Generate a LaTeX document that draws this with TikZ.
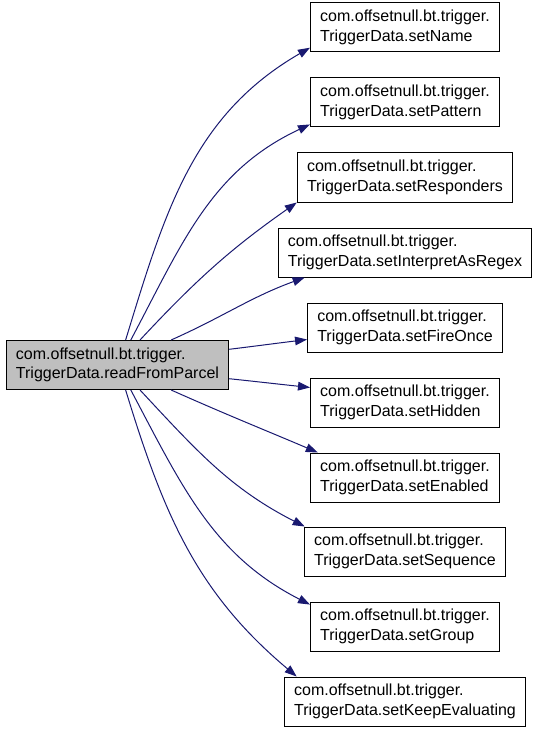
\documentclass[tikz,border=0pt]{standalone}
\usepackage{fontspec}
\setmainfont{Liberation Sans}
\usepackage{tikz}
\usetikzlibrary{arrows.meta, positioning}
\definecolor{edgeblue}{HTML}{191970}
\definecolor{callergray}{HTML}{BFBFBF}

\begin{document}
\begin{tikzpicture}[x=0.75pt, y=0.75pt, line width=0.75pt,
    fn/.style={draw=black, rectangle, align=left, inner xsep=7.3pt, inner ysep=0pt,
        minimum height=36.75pt, font=\fontsize{12}{14.5}\selectfont},
    caller/.style={fn, fill=callergray},
    edge/.style={-{Triangle[length=9pt, width=6.5pt]}, edgeblue}]
    \useasboundingbox (0,0) rectangle (539,-731);

    % Knoten links
    \node[caller] (readFromParcel) at (117.5,-365) {com.offsetnull.bt.trigger.\\TriggerData.readFromParcel};

    % aufgerufene Methoden rechts
    \foreach \m/\y in {setName/27.5, setPattern/102.5, setResponders/177.5,
        setInterpretAsRegex/252.5, setFireOnce/327.5, setHidden/402.5,
        setEnabled/477.5, setSequence/551.5, setGroup/626.5, setKeepEvaluating/701.5} {
        \node[fn] (\m) at (405,-\y) {com.offsetnull.bt.trigger.\\TriggerData.\m};
    }

    % Aufrufkanten
    \foreach \m/\s/\o/\e/\n in {setName/72.6/73/192.2/210, setPattern/62.5/62/193.3/205,
        setResponders/48.1/47/193.5/215, setInterpretAsRegex/25.4/24/194.9/200,
        setFireOnce/8.1/7/187.2/187, setHidden/-7.1/-6/171.3/174,
        setEnabled/-25.9/-24/164.9/157, setSequence/-48.1/-47/166/153,
        setGroup/-62.5/-62/167.2/153, setKeepEvaluating/-72.6/-73/167.1/140} {
        \draw[edge] (readFromParcel.\s) to[out=\o, in=\n] (\m.\e);
    }
\end{tikzpicture}
\end{document}
